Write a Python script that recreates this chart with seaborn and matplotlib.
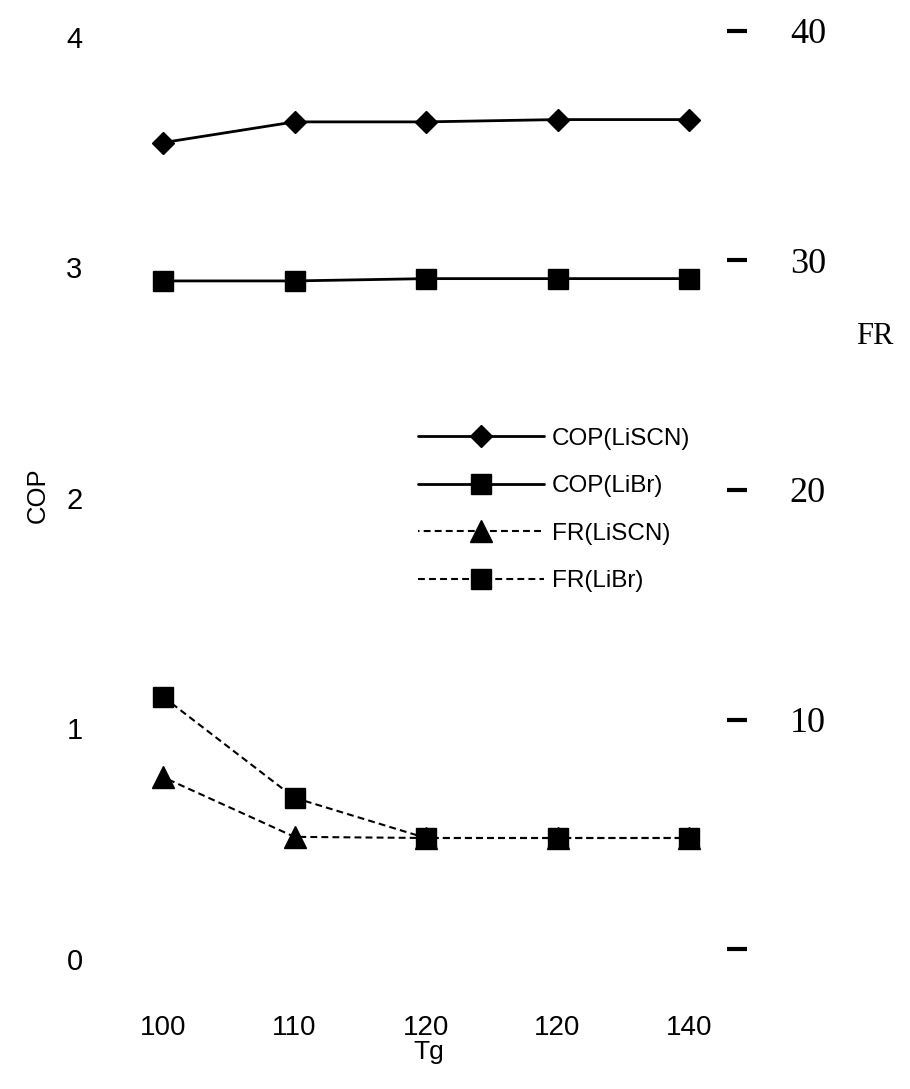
import numpy as np
import pandas as pd
import matplotlib
matplotlib.use("Agg")
import matplotlib.pyplot as plt
import seaborn as sns

# ---- data ----
tg_labels = ["100", "110", "120", "120", "140"]
cop_liscn = [3.54, 3.63, 3.63, 3.64, 3.64]
cop_libr = [2.94, 2.94, 2.95, 2.95, 2.95]
fr_liscn = [7.5, 4.9, 4.85, 4.85, 4.85]
fr_libr = [11.0, 6.6, 4.85, 4.85, 4.85]
cop_ticks = [0, 1, 2, 3, 4]
fr_ticks = [0, 10, 20, 30, 40]
fr_ticklabels = ["", "10", "20", "30", "40"]
series_labels = ["COP(LiSCN)", "COP(LiBr)", "FR(LiSCN)", "FR(LiBr)"]

sns.set_theme(style="white")
plt.rcParams["font.family"] = ["Liberation Sans", "DejaVu Sans"]
for k in ["text.color", "axes.labelcolor", "xtick.color", "ytick.color"]:
    plt.rcParams[k] = "black"

W, H = 910, 1089
fig = plt.figure(figsize=(W / 100, H / 100), dpi=100)
ax_l, ax_r, ax_b, ax_t = 120, 737, 975, 15
ax = fig.add_axes([ax_l / W, 1 - ax_b / H, (ax_r - ax_l) / W, (ax_b - ax_t) / H])
ax2 = ax.twinx()

pos = np.arange(len(tg_labels))
df = pd.DataFrame({"pos": pos, "cop_liscn": cop_liscn, "cop_libr": cop_libr,
                   "fr_liscn": fr_liscn, "fr_libr": fr_libr})

DASH = (3.3, 2.0)
DLW = 1.5
handles = []
sns.lineplot(data=df, x="pos", y="cop_liscn", ax=ax, color="black", marker="D",
             markersize=11, linewidth=2, markeredgecolor="black", markeredgewidth=1)
handles.append(ax.lines[-1])
sns.lineplot(data=df, x="pos", y="cop_libr", ax=ax, color="black", marker="s",
             markersize=14, linewidth=2, markeredgecolor="black", markeredgewidth=1)
handles.append(ax.lines[-1])
sns.lineplot(data=df, x="pos", y="fr_liscn", ax=ax2, color="black", marker="^",
             markersize=16, linewidth=DLW, linestyle=(0, DASH),
             markeredgecolor="black", markeredgewidth=1)
handles.append(ax2.lines[-1])
sns.lineplot(data=df, x="pos", y="fr_libr", ax=ax2, color="black", marker="s",
             markersize=15, linewidth=DLW, linestyle=(0, DASH),
             markeredgecolor="black", markeredgewidth=1)
handles.append(ax2.lines[-1])

# scales
ax.set_xlim((ax_l - 163) / 131.5, (ax_r - 163) / 131.5)
ax.set_ylim((958.6 - ax_b) / 230.5, (958.6 - ax_t) / 230.5)
ax2.set_ylim((949.4 - ax_b) / 22.97, (949.4 - ax_t) / 22.97)
ax2.set_xlim(ax.get_xlim())


# align dash phase of the two FR lines where they overlap (from index 2 on)
def path_len_pts(line, upto):
    xy = np.column_stack([line.get_xdata(), line.get_ydata()])[: upto + 1]
    disp = line.axes.transData.transform(xy)
    return np.sum(np.hypot(*np.diff(disp, axis=0).T)) * 72.0 / fig.dpi


period = (DASH[0] + DASH[1]) * DLW
l_sc = path_len_pts(handles[2], 2)
l_br = path_len_pts(handles[3], 2)
off = ((l_br - l_sc) % period) / DLW
handles[2].set_linestyle((off, DASH))

ax.set_xticks(pos)
ax.set_xticklabels(tg_labels)
ax.set_yticks(cop_ticks)
ax.set_yticklabels([str(t) for t in cop_ticks])
ax.tick_params(axis="x", bottom=False, length=0, pad=29, labelsize=20)
ax.tick_params(axis="y", left=False, length=0, pad=27, labelsize=21)

ax2.set_yticks(fr_ticks)
ax2.set_yticklabels(fr_ticklabels, fontfamily=["Liberation Serif", "DejaVu Serif"])
ax2.tick_params(axis="y", right=True, direction="inout", length=14, width=3,
                color="black", pad=31, labelsize=26)

for a in (ax, ax2):
    for s in a.spines.values():
        s.set_visible(False)
    a.grid(False)

ax.set_xlabel("Tg", fontsize=19, va="top")
ax.xaxis.set_label_coords(0.5, (ax_b - 1040) / (ax_b - ax_t))
ax.set_ylabel("COP", fontsize=18.5)
ax.yaxis.set_label_coords((50 - ax_l) / (ax_r - ax_l), 0.5)
ax2.set_ylabel("FR", rotation=0, fontsize=22, ha="center", va="center",
               fontfamily=["Liberation Serif", "DejaVu Serif"])
ax2.yaxis.set_label_coords((875 - ax_l) / (ax_r - ax_l), (ax_b - 337) / (ax_b - ax_t))

leg = ax2.legend(handles, series_labels, loc="center left",
                 bbox_to_anchor=(418 / W, 1 - 510 / H), bbox_transform=fig.transFigure,
                 frameon=False, fontsize=17.5, handlelength=5.2, handletextpad=0.3,
                 labelspacing=1.05, borderpad=0, borderaxespad=0, numpoints=1)

fig.savefig("out.png", dpi=100)
